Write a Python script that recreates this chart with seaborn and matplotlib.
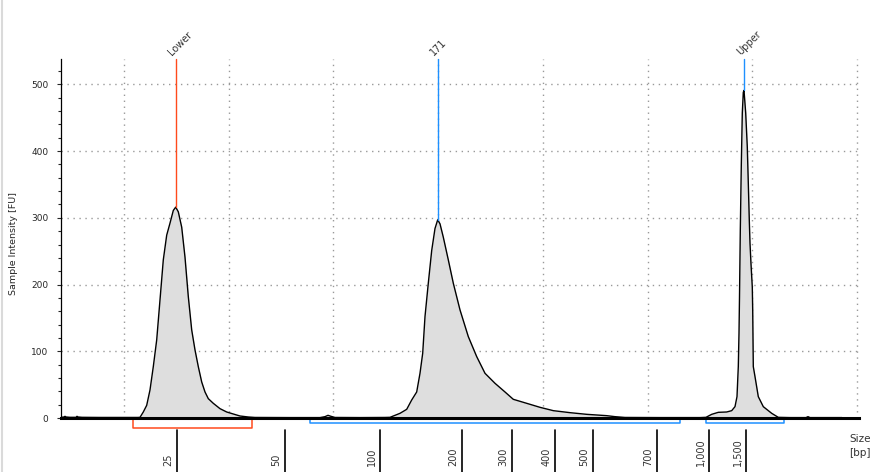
import numpy as np
import matplotlib
matplotlib.use("Agg")
import matplotlib.pyplot as plt
import matplotlib.transforms as mtransforms
from matplotlib.lines import Line2D
import seaborn as sns

# migration position (arbitrary units) and sample intensity [FU]
migration = [0, 3, 4, 5, 9, 15, 16, 17, 21, 39, 59, 77, 79, 82.3, 85.7, 89, 92.3, 95.7, 99,
             102.3, 105.7, 109, 112.3, 114.7, 117.3, 120.7, 124, 127.3, 130.7, 134, 137.3,
             140.7, 144, 147.3, 152.3, 159, 165.7, 172.3, 179, 187.3, 194, 229, 259, 264,
             267, 270, 274, 299, 324, 329, 339, 345.7, 350.7, 355.7, 359, 361.7, 364, 367.3,
             370.7, 374, 376.7, 379, 382.3, 387.3, 392.3, 399, 407.3, 415.7, 424, 434, 444,
             452.3, 465.7, 479, 492.3, 509, 525.7, 545.7, 554, 564, 599, 639, 645, 650.7,
             657.3, 665.7, 670.7, 674, 676, 677.3, 678, 678.5, 679.3, 680.3, 681.3, 682.3,
             683, 684.7, 686.3, 687.3, 688.3, 689, 690, 691.3, 691.7, 692.3, 694, 697.3,
             702.3, 710.7, 717.3, 729, 745, 747, 749, 781]
intensity = [1, 1.5, 2.5, 1.5, 1, 1, 2.5, 1.5, 1, 0.8, 0.8, 0.8, 1, 9, 19, 42, 77, 117, 177,
             237, 274, 292, 311, 316, 309, 286, 241, 182, 132, 102, 77,
             54, 39, 29, 22, 14, 9, 6, 3, 1.5, 0.8, 0.6, 0.6, 2,
             4, 2.5, 0.8, 0.6, 0.8, 1, 7, 13, 27, 39, 67, 97, 152, 202,
             251, 284, 297, 291, 271, 237, 202, 162, 122, 92, 67, 52, 39,
             28, 22, 16, 11, 8, 5.5, 3.5, 2, 0.8, 0.6, 0.6, 1, 5.5,
             8.5, 9, 11, 17, 32, 77, 127, 181, 281, 379, 457, 488,
             491, 457, 406, 352, 296, 262, 231, 196, 162, 77, 62, 32,
             17, 7, 1, 0.6, 0.6, 2, 0.6, 0.6]

# peak markers
peak_names = ["Lower", "171", "Upper"]
peak_pos = [114.7, 376.7, 683]
peak_height = [316, 297, 491]
peak_colors = ["#FF4A1C", "#1E90FF", "#1E90FF"]

# size ladder on the x axis
size_labels = ["25", "50", "100", "200", "300", "400", "500", "700", "1,000", "1,500"]
size_pos = [115.7, 224, 319, 401, 451, 494, 532, 596, 648, 685]

# integration regions
region_start = [72, 249, 645]
region_end = [191, 619, 723]
region_colors = ["#FF4A1C", "#1E90FF", "#1E90FF"]
region_depth = [15, 7.5, 7.5]

sns.set_style("white")
plt.rcParams["font.family"] = ["DejaVu Sans"]

fig = plt.figure(figsize=(8.91, 4.72), dpi=100)
ax = fig.add_axes([61 / 891, 54 / 472, 798 / 891, 359 / 472])

ax.fill_between(migration, intensity, 0, color="#DEDEDE", lw=0)
sns.lineplot(x=migration, y=intensity, ax=ax, color="black", linewidth=1)

ax.set_xlim(0, 798)
ax.set_ylim(0, 538)

# dotted grid
grid_x = 63 + 104.7 * np.arange(8)
for gx in grid_x:
    ax.axvline(gx, color="#999999", lw=1, ls=(0, (1, 3.3)), zorder=0)
for gy in [100, 200, 300, 400, 500]:
    ax.axhline(gy, color="#999999", lw=1, ls=(0, (1, 3.3)), zorder=0)

# spines and ticks
for s in ["top", "right"]:
    ax.spines[s].set_visible(False)
ax.spines["left"].set_linewidth(0.9)
ax.spines["bottom"].set_linewidth(2.2)
ax.spines["left"].set_color("black")
ax.spines["bottom"].set_color("black")
ax.set_xticks([])
ax.set_yticks([0, 100, 200, 300, 400, 500])
ax.set_yticks(np.arange(0, 540, 20), minor=True)
ax.tick_params(axis="y", which="major", direction="out", length=3, width=0.8,
               pad=6, labelsize=6.5, left=True)
ax.tick_params(axis="y", which="minor", direction="out", length=2, width=0.8, left=True)
ax.set_ylabel("Sample Intensity [FU]", fontsize=6.8)
ax.yaxis.set_label_coords(-0.054, 0.487)

# peak marker lines and labels
for name, x, h, c in zip(peak_names, peak_pos, peak_height, peak_colors):
    ax.plot([x, x], [h, 538], color=c, lw=1, clip_on=False)
    ax.annotate(name, xy=(x, 538), xytext=(-4, 4), textcoords="offset points",
                rotation=45, rotation_mode="anchor", ha="left", va="center",
                fontsize=7, color="#333333", annotation_clip=False)

# region brackets below the axis
for a, b, c, d in zip(region_start, region_end, region_colors, region_depth):
    ax.plot([a, a, b, b], [0, -d, -d, 0], color=c, lw=1.1, clip_on=False)

# size ladder ticks
trans = mtransforms.blended_transform_factory(ax.transData, ax.transAxes)
for lab, x in zip(size_labels, size_pos):
    ax.plot([x, x], [-0.034, -0.16], color="black", lw=1.2, transform=trans, clip_on=False)
    ax.annotate(lab, xy=(x, -0.134), xycoords=trans, xytext=(-2.5, 0),
                textcoords="offset points", rotation=90, rotation_mode="anchor",
                ha="left", va="bottom", fontsize=7, color="#333333",
                annotation_clip=False)

ax.text(1.001, -0.078, "Size\n[bp]", transform=ax.transAxes, ha="center", va="center",
        fontsize=7.5, color="#333333", linespacing=1.5)

fig.add_artist(Line2D([1.5 / 891, 1.5 / 891], [0, 1], transform=fig.transFigure,
                      color="#DADADA", lw=1.5))

fig.savefig("out.png", dpi=100)
